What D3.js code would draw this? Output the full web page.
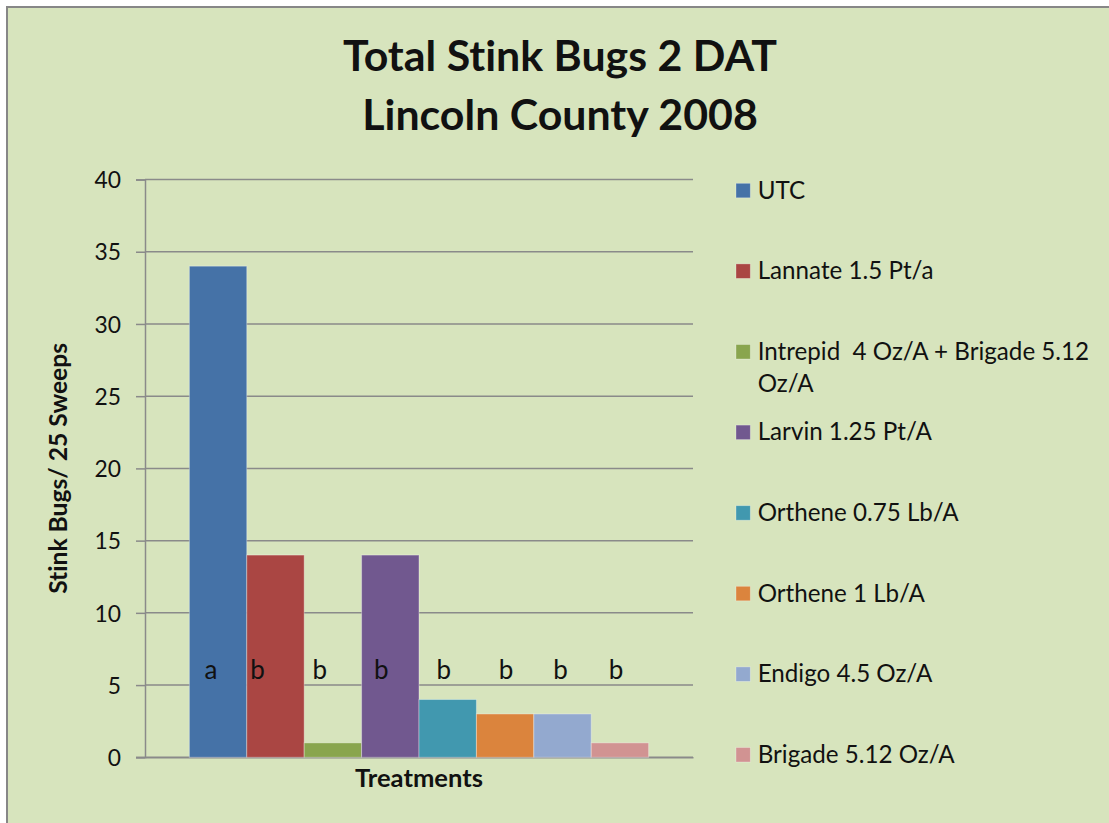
<!DOCTYPE html>
<html>
<head>
<meta charset="utf-8">
<script src="https://cdn.jsdelivr.net/npm/d3@7"></script>
<style>
  html, body { margin: 0; padding: 0; background: #ffffff; }
  svg { display: block; }
  text { font-family: Lato, "Open Sans", sans-serif; fill: #111; font-variant-ligatures: none; font-feature-settings: "liga" 0, "clig" 0; }
</style>
</head>
<body>
<svg id="chart" width="1109" height="823"></svg>
<script>
// ---- data ----
const categories = ["Treatments"];
const seriesNames = [
  "UTC",
  "Lannate 1.5 Pt/a",
  "Intrepid  4 Oz/A + Brigade 5.12 Oz/A",
  "Larvin 1.25 Pt/A",
  "Orthene 0.75 Lb/A",
  "Orthene 1 Lb/A",
  "Endigo 4.5 Oz/A",
  "Brigade 5.12 Oz/A"
];
const seriesValues = [34, 14, 1, 14, 4, 3, 3, 1];
const letters = ["a", "b", "b", "b", "b", "b", "b", "b"];
const yTicks = [0, 5, 10, 15, 20, 25, 30, 35, 40];
const titleLines = ["Total Stink Bugs 2 DAT", "Lincoln County 2008"];
const yAxisTitle = "Stink Bugs/ 25 Sweeps";
const xAxisTitle = "Treatments";
const colors = ["#4572A7", "#AA4643", "#89A54E", "#71588F", "#4198AF", "#DB843D", "#93A9CF", "#D19392"];

// ---- layout ----
const svg = d3.select("#chart");
const plot = { left: 145, right: 693, top: 179.5, bottom: 757.3 };
const gridColor = "#8a8a8a";

function fitSize(text, weight, target) {
  const t = svg.append("text").attr("font-size", 100).attr("font-weight", weight)
    .style("white-space", "pre").text(text);
  const w = t.node().getComputedTextLength();
  t.remove();
  return 100 * target / w;
}
function measure(text, weight, size) {
  const t = svg.append("text").attr("font-size", size).attr("font-weight", weight)
    .style("white-space", "pre").text(text);
  const w = t.node().getComputedTextLength();
  t.remove();
  return w;
}

// background panel
svg.append("rect").attr("x", 7).attr("y", 7).attr("width", 1200).attr("height", 900)
  .attr("fill", "#D7E4BD").attr("stroke", "#878787").attr("stroke-width", 2);

// title
const titleSize = fitSize(titleLines[0], "bold", 434);
svg.append("g").selectAll("text").data(titleLines).join("text")
  .attr("x", 560).attr("y", (d, i) => 71 + i * 59)
  .attr("text-anchor", "middle").attr("font-weight", "bold")
  .attr("font-size", titleSize).attr("fill", "#000").text(d => d);

// scales
const y = d3.scaleLinear().domain([0, 40]).range([plot.bottom, plot.top]);
const x0 = d3.scaleBand().domain(categories).range([plot.left, plot.right]).paddingInner(0).paddingOuter(0.0966);
const x1 = d3.scaleBand().domain(seriesNames).range([0, x0.bandwidth()]).padding(0);

// gridlines
svg.append("g").selectAll("line").data(yTicks).join("line")
  .attr("x1", plot.left).attr("x2", plot.right)
  .attr("y1", d => y(d)).attr("y2", d => y(d))
  .attr("stroke", gridColor).attr("stroke-width", 1.5);

// y axis
const tickSize = fitSize("40", "normal", 26.5);
const yAxis = svg.append("g").attr("transform", `translate(${plot.left},0)`)
  .call(d3.axisLeft(y).tickValues(yTicks).tickSize(9).tickPadding(15).tickFormat(d3.format("d")));
yAxis.select(".domain").attr("stroke", gridColor).attr("stroke-width", 1.5);
yAxis.selectAll(".tick line").attr("stroke", gridColor).attr("stroke-width", 1.5);
yAxis.selectAll(".tick text").attr("font-size", tickSize).attr("font-family", "Lato, sans-serif")
  .attr("fill", "#111").attr("dy", "0.36em");

// x axis line
const xAxis = svg.append("g").attr("transform", `translate(0,${plot.bottom})`)
  .call(d3.axisBottom(x0).tickSize(0).tickFormat(""));
xAxis.select(".domain").attr("stroke", gridColor).attr("stroke-width", 1.5);
svg.append("line").attr("x1", plot.left - 9).attr("x2", plot.left)
  .attr("y1", plot.bottom).attr("y2", plot.bottom).attr("stroke", gridColor).attr("stroke-width", 1.5);

// bars
const barData = seriesNames.map((s, i) => ({ name: s, value: seriesValues[i], color: colors[i], letter: letters[i] }));
svg.append("g").selectAll("rect").data(barData).join("rect")
  .attr("x", d => x0(categories[0]) + x1(d.name))
  .attr("width", x1.bandwidth())
  .attr("y", d => y(d.value))
  .attr("height", d => y(0) - y(d.value))
  .attr("fill", d => d.color)
  .attr("stroke", "rgba(255,255,255,0.35)").attr("stroke-width", 1);

// significance letters (manual text boxes, slight nudges)
const letterNudge = [-7, -18, -13, -9, -4, 1, -2, -4];
const letterSize = 26;
svg.append("g").selectAll("text").data(barData).join("text")
  .attr("x", (d, i) => x0(categories[0]) + x1(d.name) + x1.bandwidth() / 2 + letterNudge[i])
  .attr("y", y(5.45))
  .attr("text-anchor", "middle").attr("font-size", letterSize).attr("fill", "#111")
  .text(d => d.letter);

// axis titles
const xtSize = fitSize(xAxisTitle, "bold", 128);
svg.append("text").attr("x", (plot.left + plot.right) / 2).attr("y", 787)
  .attr("text-anchor", "middle").attr("font-weight", "bold").attr("font-size", xtSize)
  .attr("fill", "#000").text(xAxisTitle);
const ytSize = fitSize(yAxisTitle, "bold", 251);
svg.append("text").attr("transform", `translate(66.5,${(plot.top + plot.bottom) / 2}) rotate(-90)`)
  .attr("text-anchor", "middle").attr("font-weight", "bold").attr("font-size", ytSize)
  .attr("fill", "#000").text(yAxisTitle);

// legend
const legSize = fitSize("Lannate 1.5 Pt/a", "normal", 176);
const legX = 736, legTextX = 757.7, legTop = 190.5, legStep = 80.6, legMaxW = 335;
const legend = svg.append("g");
barData.forEach((d, i) => {
  const cy = legTop + i * legStep;
  legend.append("rect").attr("x", legX).attr("y", cy - 7.2).attr("width", 14.3).attr("height", 14.5)
    .attr("fill", d.color).attr("stroke", "rgba(255,255,255,0.35)").attr("stroke-width", 0.8);
  const words = d.name.split(" ");
  const lines = [];
  let cur = "";
  words.forEach(w => {
    const test = cur === "" ? w : cur + " " + w;
    if (cur !== "" && w !== "" && measure(test, "normal", legSize) > legMaxW) { lines.push(cur); cur = w; }
    else cur = test;
  });
  lines.push(cur);
  const t = legend.append("text").attr("font-size", legSize).attr("fill", "#111").style("white-space", "pre");
  lines.forEach((ln, j) => {
    t.append("tspan").attr("x", legTextX).attr("y", cy + 8 + j * 32.5).text(ln);
  });
});
</script>
</body>
</html>
